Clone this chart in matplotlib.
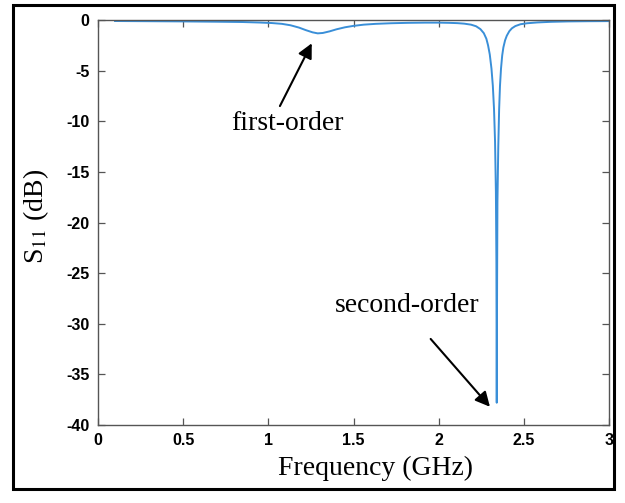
import matplotlib
matplotlib.use("Agg")
import matplotlib.pyplot as plt
from matplotlib.patches import Rectangle

# Curva S11 medida (GHz, dB)
freq_ghz = [0.10, 0.30, 0.50, 0.70, 0.85, 0.95, 1.02, 1.08, 1.13, 1.18,
            1.22, 1.26, 1.29, 1.32, 1.36, 1.40, 1.45, 1.50, 1.56, 1.63,
            1.72, 1.82, 1.92, 2.00, 2.06, 2.11, 2.15, 2.19, 2.22, 2.245,
            2.265, 2.28, 2.29, 2.30, 2.31, 2.318, 2.325, 2.331, 2.336, 2.339,
            2.341, 2.343, 2.345, 2.35, 2.355, 2.36, 2.366, 2.373, 2.38, 2.39,
            2.40, 2.415, 2.43, 2.45, 2.48, 2.52, 2.58, 2.66, 2.76, 2.88, 3.00]
s11_db = [-0.10, -0.12, -0.14, -0.17, -0.20, -0.25, -0.30, -0.38, -0.52, -0.75,
          -1.00, -1.22, -1.32, -1.28, -1.12, -0.92, -0.72, -0.58, -0.46, -0.38,
          -0.32, -0.28, -0.26, -0.26, -0.28, -0.31, -0.36, -0.46, -0.62, -0.90,
          -1.30, -1.85, -2.50, -3.40, -4.80, -6.50, -8.80, -12.0, -17.0, -24.0,
          -37.8, -26.0, -18.0, -12.5, -8.8, -6.5, -4.8, -3.5, -2.7, -2.0,
          -1.55, -1.10, -0.82, -0.60, -0.42, -0.32, -0.24, -0.18, -0.14, -0.12, -0.11]

x_ticks = [0, 0.5, 1, 1.5, 2, 2.5, 3]
x_tick_labels = ["0", "0.5", "1", "1.5", "2", "2.5", "3"]
y_ticks = [0, -5, -10, -15, -20, -25, -30, -35, -40]

# Anotaciones: (texto, posición texto, cola flecha, punta flecha)
ann_first = ("first-order", (1.115, -10.2), (1.068, -8.5), (1.255, -2.3))
ann_second = ("second-order", (1.817, -28.2), (1.953, -31.5), (2.301, -38.2))

plt.rcParams["mathtext.fontset"] = "stix"
SERIF = "Liberation Serif"
TICKFONT = "Liberation Sans"

fig = plt.figure(figsize=(6.25, 5.03), dpi=100)
ax = fig.add_axes([98 / 625, 1 - 425 / 503, 511 / 625, 405 / 503])

ax.plot(freq_ghz, s11_db, color="#3a8fd8", lw=1.4)

ax.set_xlim(0, 3)
ax.set_ylim(-40, 0)
ax.set_xticks(x_ticks)
ax.set_xticklabels(x_tick_labels)
ax.set_yticks(y_ticks)
ax.set_yticklabels([str(v) for v in y_ticks])

for sp in ax.spines.values():
    sp.set_color("#555555")
    sp.set_linewidth(1.0)
ax.tick_params(direction="in", length=5, width=0.9, color="#555555",
               top=True, right=True, pad=6)
for lab in ax.get_xticklabels() + ax.get_yticklabels():
    lab.set_fontfamily(TICKFONT)
    lab.set_fontweight("bold")
    lab.set_fontsize(11.5)

ax.set_xlabel("Frequency (GHz)", fontfamily=SERIF, fontsize=20)
ax.xaxis.set_label_coords(0.544, -0.075)
ax.set_ylabel(r"S$_{11}$ (dB)", fontfamily=SERIF, fontsize=20)
ax.yaxis.set_label_coords(-0.092, 0.516)

arrow = dict(arrowstyle="-|>", color="black", lw=1.5, mutation_scale=22,
             shrinkA=0, shrinkB=0)
for text, txt_pos, tail, tip in (ann_first, ann_second):
    ax.annotate("", xy=tip, xytext=tail, arrowprops=arrow)
    ax.text(*txt_pos, text, fontfamily=SERIF, fontsize=20,
            ha="center", va="center")

# Marco exterior de la figura
fig.patches.append(Rectangle((13 / 625, 1 - 489 / 503), 601 / 625, 484 / 503,
                             transform=fig.transFigure, fill=False,
                             edgecolor="black", lw=2.2))

fig.savefig("out.png", dpi=100)
